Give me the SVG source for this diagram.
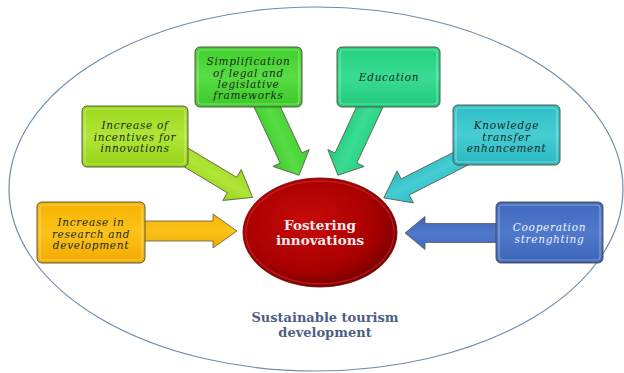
<svg xmlns="http://www.w3.org/2000/svg" width="624" height="373" viewBox="0 0 624 373">
  <defs>
    <style>
      .box-edge { stroke: #4a4a3a; stroke-width: 0.9; }
      .bevel { fill: none; stroke: #ffffff; stroke-opacity: 0.35; stroke-width: 1.2; }
      .lbl { font-family: "DejaVu Serif", "Liberation Serif", serif; font-style: italic; font-size: 10.5px; letter-spacing: 0.7px; fill: #1a2a1c; text-anchor: middle; }
      .lbl-light { fill: #eef2fb; }
      .arrow { stroke: #5a5a4a; stroke-width: 0.8; stroke-linejoin: miter; }
      .core { font-family: "DejaVu Serif", "Liberation Serif", serif; font-weight: bold; font-size: 13.5px; fill: #fcecec; text-anchor: middle; }
      .caption { font-family: "DejaVu Serif", "Liberation Serif", serif; font-weight: bold; font-size: 13px; fill: #4e6082; text-anchor: middle; }
    </style>
    <!-- fills for boxes: lighter middle, deeper edges -->
    <linearGradient id="gOrange" x1="0" y1="0" x2="0" y2="1">
      <stop offset="0" stop-color="#f7b300"/><stop offset="0.5" stop-color="#fcc21a"/><stop offset="1" stop-color="#f2aa00"/>
    </linearGradient>
    <linearGradient id="gLime" x1="0" y1="0" x2="0" y2="1">
      <stop offset="0" stop-color="#9bd81c"/><stop offset="0.5" stop-color="#b1e639"/><stop offset="1" stop-color="#96d315"/>
    </linearGradient>
    <linearGradient id="gGreen" x1="0" y1="0" x2="0" y2="1">
      <stop offset="0" stop-color="#40d02c"/><stop offset="0.5" stop-color="#58dc44"/><stop offset="1" stop-color="#3bc928"/>
    </linearGradient>
    <linearGradient id="gSea" x1="0" y1="0" x2="0" y2="1">
      <stop offset="0" stop-color="#22d17f"/><stop offset="0.5" stop-color="#3adc93"/><stop offset="1" stop-color="#1fc97a"/>
    </linearGradient>
    <linearGradient id="gCyan" x1="0" y1="0" x2="0" y2="1">
      <stop offset="0" stop-color="#2dbfc6"/><stop offset="0.5" stop-color="#47cdd3"/><stop offset="1" stop-color="#29b8c0"/>
    </linearGradient>
    <linearGradient id="gBlue" x1="0" y1="0" x2="0" y2="1">
      <stop offset="0" stop-color="#3f69c0"/><stop offset="0.5" stop-color="#5079cc"/><stop offset="1" stop-color="#3b63b8"/>
    </linearGradient>
    <radialGradient id="gCore" cx="0.42" cy="0.4" r="0.62">
      <stop offset="0" stop-color="#c80a0a"/><stop offset="0.7" stop-color="#a90000"/><stop offset="1" stop-color="#7c0000"/>
    </radialGradient>
  </defs>

  <!-- outer boundary -->
  <ellipse cx="316" cy="189" rx="307" ry="182" fill="#ffffff" stroke="#6f8cab" stroke-width="1.2"/>

  <!-- connectors: block arrows pointing at the centre -->
  <g id="connectors">
    <!-- local shape: tail at origin, tip at (L,0) -->
    <polygon class="arrow" fill="url(#gOrange)" transform="translate(140,231)" points="0,-10 73,-10 73,-17 97,0 73,17 73,10 0,10"/>
    <polygon class="arrow" fill="url(#gLime)" transform="translate(172,149) rotate(31)" points="0,-9 70,-9 70,-18 94,0 70,18 70,9 0,9"/>
    <polygon class="arrow" fill="url(#gGreen)" transform="translate(264,100) rotate(65)" points="0,-12 64,-12 64,-20 83,0 64,20 64,12 0,12"/>
    <polygon class="arrow" fill="url(#gSea)" transform="translate(373,100) rotate(115)" points="0,-12 64,-12 64,-20 83,0 64,20 64,12 0,12"/>
    <polygon class="arrow" fill="url(#gCyan)" transform="translate(464,157) rotate(153)" points="0,-9 66,-9 66,-18 90,0 66,18 66,9 0,9"/>
    <polygon class="arrow" fill="url(#gBlue)" transform="translate(500,233) rotate(180)" points="0,-9.5 75,-9.5 75,-16.5 95,0 75,16.5 75,9.5 0,9.5"/>
  </g>

  <g id="node-research">
    <rect class="box-edge" x="37" y="202" width="108" height="61" rx="5" fill="url(#gOrange)"/>
    <rect class="bevel" x="40" y="205" width="102" height="55" rx="3"/>
    <text class="lbl" x="91" y="226">Increase in</text>
    <text class="lbl" x="91" y="237.5">research and</text>
    <text class="lbl" x="91" y="249">development</text>
  </g>

  <g id="node-incentives">
    <rect class="box-edge" x="82" y="106" width="106" height="61" rx="5" fill="url(#gLime)"/>
    <rect class="bevel" x="85" y="109" width="100" height="55" rx="3"/>
    <text class="lbl" x="135" y="129">Increase of</text>
    <text class="lbl" x="135" y="140.5">incentives for</text>
    <text class="lbl" x="135" y="152">innovations</text>
  </g>

  <g id="node-simplification">
    <rect class="box-edge" x="195" y="47" width="107" height="60" rx="5" fill="url(#gGreen)"/>
    <rect class="bevel" x="198" y="50" width="101" height="54" rx="3"/>
    <text class="lbl" x="248.5" y="65">Simplification</text>
    <text class="lbl" x="248.5" y="76.5">of legal and</text>
    <text class="lbl" x="248.5" y="87.5">legislative</text>
    <text class="lbl" x="248.5" y="98.5">frameworks</text>
  </g>

  <g id="node-education">
    <rect class="box-edge" x="337" y="47" width="103" height="60" rx="5" fill="url(#gSea)"/>
    <rect class="bevel" x="340" y="50" width="97" height="54" rx="3"/>
    <text class="lbl" x="389" y="81">Education</text>
  </g>

  <g id="node-knowledge">
    <rect class="box-edge" x="453" y="105" width="107" height="60" rx="5" fill="url(#gCyan)"/>
    <rect class="bevel" x="456" y="108" width="101" height="54" rx="3"/>
    <text class="lbl" x="506.5" y="129">Knowledge</text>
    <text class="lbl" x="506.5" y="140.5">transfer</text>
    <text class="lbl" x="506.5" y="152">enhancement</text>
  </g>

  <g id="node-cooperation">
    <rect class="box-edge" x="496" y="202" width="107" height="61" rx="5" fill="url(#gBlue)"/>
    <rect class="bevel" x="499" y="205" width="101" height="55" rx="3"/>
    <text class="lbl lbl-light" x="549.5" y="231">Cooperation</text>
    <text class="lbl lbl-light" x="549.5" y="242.5">strenghting</text>
  </g>

  <g id="node-core">
    <ellipse cx="320" cy="232.5" rx="77" ry="54.5" fill="url(#gCore)" stroke="#6e0000" stroke-width="0.8"/>
    <ellipse cx="320" cy="232.5" rx="74" ry="51.5" fill="none" stroke="#e85050" stroke-opacity="0.35" stroke-width="1.5"/>
    <text class="core" x="320" y="230">Fostering</text>
    <text class="core" x="320" y="245">innovations</text>
  </g>

  <g id="caption">
    <text class="caption" x="325" y="322">Sustainable tourism</text>
    <text class="caption" x="325" y="337">development</text>
  </g>
</svg>
